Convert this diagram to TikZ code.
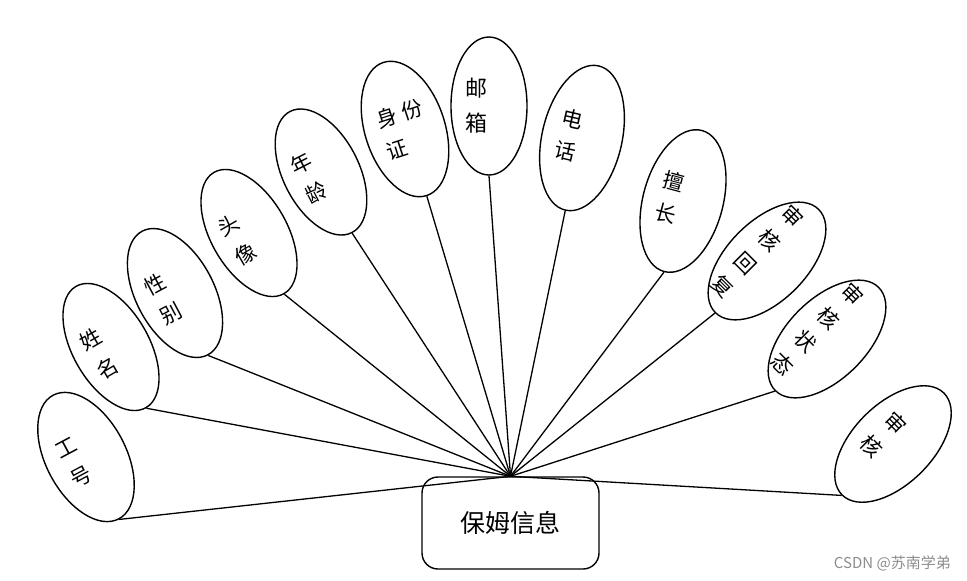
\documentclass[tikz,border=0pt]{standalone}
\usepackage{fontspec}
\setmainfont{Noto Sans CJK SC}
\usetikzlibrary{shapes.geometric}
\tikzset{
  attr/.style={ellipse, draw, line width=1.4pt, inner sep=0pt, minimum width=78pt, minimum height=140pt},
  attrtext/.style={align=left, text width=48pt, inner sep=0pt, font=\fontsize{21}{33}\selectfont},
  link/.style={line width=1.3pt},
  entity/.style={draw, rounded corners=16pt, line width=1.4pt, minimum width=177pt, minimum height=92pt, inner sep=0pt, font=\fontsize{25}{28}\selectfont},
  mark text/.style={text=black!45, inner sep=0pt, font=\fontsize{15}{17}\selectfont}
}
\begin{document}
\begin{tikzpicture}[x=1pt,y=-1pt]
\path[use as bounding box] (0,0) rectangle (967,581);
\node[entity] (box) at (510.5,523) {保姆信息};

\node[attr, rotate=28, minimum width=80pt] (e1) at (86,457) {};
\node[attrtext, rotate=28] (t1) at (e1.center) {工\\号};
\node[attr, rotate=30, minimum width=76pt] (e2) at (111,347) {};
\node[attrtext, rotate=30] (t2) at (e2.center) {姓\\名};
\node[attr, rotate=28, minimum width=78pt] (e3) at (175,293) {};
\node[attrtext, rotate=28] (t3) at (e3.center) {性\\别};
\node[attr, rotate=30, minimum width=76pt] (e4) at (249,233) {};
\node[attrtext, rotate=30] (t4) at (e4.center) {头\\像};
\node[attr, rotate=27, minimum width=76pt, minimum height=136pt] (e5) at (321,172) {};
\node[attrtext, rotate=27] (t5) at (e5.center) {年\\龄};
\node[attr, rotate=18, minimum width=80pt] (e6) at (405,129) {};
\node[attrtext, rotate=18] (t6) at (e6.center) {身\kern5pt份\\证};
\node[attr, rotate=0, minimum width=76pt, minimum height=138pt] (e7) at (489,106) {};
\node[attrtext, rotate=0, font=\fontsize{22}{35}\selectfont] (t7) at (e7.center) {邮\\箱};
\node[attr, rotate=-13, minimum width=80pt, minimum height=148pt] (e8) at (582,138) {};
\node[attrtext, rotate=-13] (t8) at (e8.center) {电\\话};
\node[attr, rotate=-15, minimum width=80pt, minimum height=146pt] (e9) at (683,201) {};
\node[attrtext, rotate=-15] (t9) at (e9.center) {擅\\长};
\node[attr, rotate=-45, minimum width=80pt, minimum height=146pt] (e10) at (767,261) {};
\node[attrtext, rotate=-45] (t10) at (e10.center) {审\\核\\回\\复};
\node[attr, rotate=-45, minimum width=80pt, minimum height=146pt] (e11) at (827,339) {};
\node[attrtext, rotate=-45] (t11) at (e11.center) {审\\核\\状\\态};
\node[attr, rotate=-45, minimum width=80pt, minimum height=144pt] (e12) at (893,444) {};
\node[attrtext, rotate=-45] (t12) at (e12.center) {审\\核};

\foreach \i in {1,...,12} {
  \draw[link] (e\i.south) -- (box.north);
}

\node[mark text, anchor=east] (wm) at (951,563) {CSDN @苏南学弟};
\end{tikzpicture}
\end{document}
